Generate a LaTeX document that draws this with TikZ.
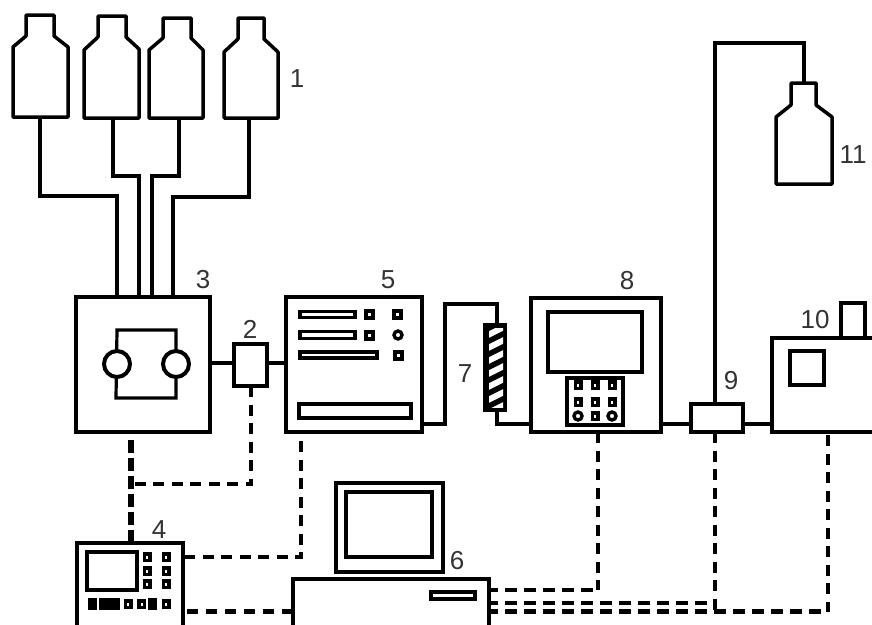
\documentclass[tikz,border=0pt]{standalone}
\usepackage{fontspec}
\setmainfont{Liberation Sans}
\definecolor{lbl}{HTML}{333333}
\tikzset{
  pipe/.style={line width=3.2pt,line join=miter},
  hbox/.style={draw,line width=3.2pt,fill=white,inner sep=0pt,outer sep=0pt},
  tiny key/.style={draw,line width=4pt,fill=white,inner sep=0pt,outer sep=0pt,minimum width=7pt,minimum height=7pt},
  dark key/.style={draw,line width=3.5pt,fill=white,inner sep=0pt,outer sep=0pt,minimum width=5.5pt,minimum height=6.5pt},
  round key/.style={draw,line width=3.4pt,fill=white,circle,inner sep=0pt,outer sep=0pt,minimum size=8pt},
  solid key/.style={draw,fill=black,line width=1pt,inner sep=0pt,outer sep=0pt,minimum height=11pt},
  signal/.style={line width=3.4pt,dash pattern=on 11pt off 7.5pt},
  signal h/.style={line width=3.6pt,dash pattern=on 11.5pt off 7.5pt,dash phase=3pt},
  bus/.style={line width=4.5pt,dash pattern=on 11.5pt off 7.5pt,dash phase=3pt},
  bus left/.style={line width=5pt,dash pattern=on 10.5pt off 8.5pt},
  trunk/.style={line width=6pt,dash pattern=on 12.5pt off 5.5pt},
  valve/.style={draw,circle,line width=4pt,fill=white,inner sep=0pt,outer sep=0pt,minimum size=26pt},
  bottle/.style={line width=3.5pt,line join=round,fill=white},
  lab/.style={text=lbl,inner sep=0pt,font=\fontsize{26}{26}\selectfont}
}
% name, x1, y1, x2, y2, style
\newcommand{\pxbox}[6]{%
  \pgfmathsetmacro{\pw}{#4-#2}\pgfmathsetmacro{\ph}{#5-#3}%
  \pgfmathsetmacro{\pcx}{(#2+#4)/2}\pgfmathsetmacro{\pcy}{(#3+#5)/2}%
  \node[hbox,#6,minimum width=\pw pt,minimum height=\ph pt] (#1) at (\pcx,\pcy) {};}
\begin{document}
\begin{tikzpicture}[x=1pt,y=-1pt]
\useasboundingbox (0,0) rectangle (872,624);
\clip (0,0) rectangle (872,624);
\fill[white] (0,0) rectangle (872,624);

% instrument boxes
\pxbox{b3}{76}{297}{210}{432}{}
\pxbox{b2}{234}{344}{267}{386}{}
\pxbox{b5}{286}{297}{422}{432}{}
\pxbox{b8}{531}{298}{661}{432}{}
\pxbox{b9}{691}{404}{743}{432}{}
\pxbox{b10top}{841}{303}{865}{345}{}
\pxbox{b10}{772}{338}{885}{432}{}
\pxbox{b4}{77}{543}{183}{640}{}
\pxbox{b6}{293}{579}{489}{640}{}
\pxbox{mon}{336}{483}{443}{572}{}
\pxbox{monin}{346}{492}{432}{557}{}

% bottles
\coordinate (s1) at (40,117);
\coordinate (s2) at (113,118);
\coordinate (s3) at (179,118);
\coordinate (s4) at (249,118);
\coordinate (s11) at (804,83);
\draw[bottle] (13,117) -- (13,47) -- (26,36) -- (26,15) -- (54,15) -- (54,36) -- (68,47) -- (68,117) -- cycle;
\draw[bottle] (84,118) -- (84,50) -- (98,37) -- (98,16) -- (126,16) -- (126,37) -- (139,49) -- (139,118) -- cycle;
\draw[bottle] (149,118) -- (149,50) -- (163,38) -- (163,18) -- (191,18) -- (191,38) -- (203,50) -- (203,118) -- cycle;
\draw[bottle] (224,118) -- (224,52) -- (238,39) -- (238,18) -- (264,18) -- (264,39) -- (278,52) -- (278,118) -- cycle;
\draw[bottle] (776,184) -- (776,117) -- (791,105) -- (791,83) -- (816,83) -- (816,105) -- (832,117) -- (832,184) -- cycle;

% feed lines
\coordinate (k1) at (40,196);  \coordinate (k1b) at (117,196);
\coordinate (k2) at (113,176); \coordinate (k2b) at (139,176);
\coordinate (k3) at (179,176); \coordinate (k3b) at (152,176);
\coordinate (k4) at (249,197); \coordinate (k4b) at (173,197);
\draw[pipe] (s1) -- (k1) -- (k1b) -- (k1b |- b3.north);
\draw[pipe] (s2) -- (k2) -- (k2b) -- (k2b |- b3.north);
\draw[pipe] (s3) -- (k3) -- (k3b) -- (k3b |- b3.north);
\draw[pipe,line width=3.6pt] (s4) -- (k4) -- (k4b) -- (k4b |- b3.north);

% valve in box 3
\coordinate (lpt) at (117,330); \coordinate (rpt) at (176,330);
\coordinate (lpb) at (116,398); \coordinate (rpb) at (176,398);
\draw[pipe] (lpb) -- (lpt) -- (rpt) -- (rpb) -- cycle;
\node[valve] (vl) at (117,364) {};
\node[valve] (vr) at (176,364) {};

% flow path
\coordinate (f32) at (210,363);
\draw[pipe] (f32) -- (f32 -| b2.west);
\draw[pipe] (b2.east |- f32) -- (b5.west |- f32);
\coordinate (f5a) at (422,424); \coordinate (f5b) at (445,424);
\coordinate (f5c) at (445,304); \coordinate (f5d) at (497,304);
\pxbox{col}{485}{325}{505}{410}{fill=black,draw=black,line width=4pt}
\draw[pipe] (f5a) -- (f5b) -- (f5c) -- (f5d) -- (f5d |- col.north);
\coordinate (f7) at (497,424);
\draw[pipe] (col.south -| f7) -- (f7) -- (f7 -| b8.west);
\begin{scope}
\clip (489,328) rectangle (503,407);
\foreach \yy in {336,349,362,375,388,401,414}
  \draw[white,line width=6pt] (486,\yy) -- (506,\yy-10);
\end{scope}
\coordinate (f89) at (661,424);
\draw[pipe] (f89) -- (f89 -| b9.west);
\draw[pipe] (b9.east |- f89) -- (b10.west |- f89);
\coordinate (r1) at (715,43); \coordinate (r2) at (804,43);
\draw[pipe] (r1 |- b9.north) -- (r1) -- (r2) -- (s11);

% box 5 details
\pxbox{sl1}{300}{311.5}{355}{317.5}{}
\pxbox{sl2}{300}{331.5}{355}{338.5}{}
\pxbox{sl3}{300}{351.5}{377}{357.5}{line width=4pt}
\pxbox{sl4}{299}{404}{411}{418}{}
\node[tiny key] (k51) at (369,314) {};
\node[tiny key] (k52) at (397,314) {};
\node[tiny key] (k53) at (369,335) {};
\node[round key] (k54) at (398,335) {};
\node[tiny key] (k55) at (398,355) {};

% box 8 details
\pxbox{scr8}{548}{312}{642}{372}{line width=4pt}
\pxbox{pad8}{567}{378}{623}{425}{}
\node[dark key] (p1) at (578,385) {};
\node[dark key] (p2) at (595,385) {};
\node[dark key] (p3) at (612,385) {};
\node[dark key] (p4) at (578,402) {};
\node[dark key] (p5) at (595,402) {};
\node[dark key] (p6) at (612,402) {};
\node[round key] (p7) at (578,416) {};
\node[dark key] (p8) at (595,416) {};
\node[round key] (p9) at (612,416) {};

% box 10 window
\pxbox{win}{790}{351}{824}{385}{line width=4pt}

% box 4 details
\pxbox{scr4}{87}{552}{137}{590}{line width=3.5pt}
\node[dark key] (q1) at (147,557) {};
\node[dark key] (q2) at (166,557) {};
\node[dark key] (q3) at (147,571) {};
\node[dark key] (q4) at (166,571) {};
\node[dark key] (q5) at (147,584) {};
\node[dark key] (q6) at (166,584) {};
\node[solid key,minimum width=8pt] (r1k) at (92.5,604) {};
\node[solid key,minimum width=20pt] (r2k) at (109.5,604) {};
\node[dark key] (r4k) at (128,604) {};
\node[dark key] (r5k) at (141.5,604) {};
\node[solid key,minimum width=8pt] (r6k) at (152.5,604) {};
\node[dark key] (r7k) at (166,604) {};

% box 6 slot
\pxbox{sl6}{431}{592}{475}{599}{}

% signal lines
\coordinate (c3) at (131,440);
\draw[trunk] (c3) -- (c3 |- b4.north);
\coordinate (c2) at (251,484);
\draw[signal] (b2.south -| c2) -- (c2) -- (c2 -| c3);
\coordinate (c5t) at (301,441); \coordinate (c5) at (301,557);
\draw[signal] (c5t) -- (c5) -- (c5 -| b4.east);
\coordinate (c46) at (187,611);
\draw[bus left] (c46) -- (c46 -| b6.west);
\coordinate (c8t) at (598,432); \coordinate (c8) at (598,590);
\draw[signal h] (c8 -| b6.east) -- (c8);
\draw[signal] (c8t) -- (c8);
\coordinate (c9) at (715,611);
\draw[signal] (b9.south -| c9) -- (c9);
\coordinate (c10t) at (828,435); \coordinate (c10) at (828,611.5);
\draw[signal] (c10t) -- (c10);
\draw[bus] (c10 -| b6.east) -- (c10);
\coordinate (c9u) at (707,603);
\draw[bus,line width=4pt] (c9u -| b6.east) -- (c9u);

% labels
\node[lab] (n1) at (297,79) {1};
\node[lab] (n2) at (250,329) {2};
\node[lab] (n3) at (203,280) {3};
\node[lab] (n4) at (159,530) {4};
\node[lab] (n5) at (388,280) {5};
\node[lab] (n6) at (457,561) {6};
\node[lab] (n7) at (465,374) {7};
\node[lab] (n8) at (627,281) {8};
\node[lab] (n9) at (731,381) {9};
\node[lab] (n10) at (815,320) {10};
\node[lab] (n11) at (853,155) {11};
\end{tikzpicture}
\end{document}
